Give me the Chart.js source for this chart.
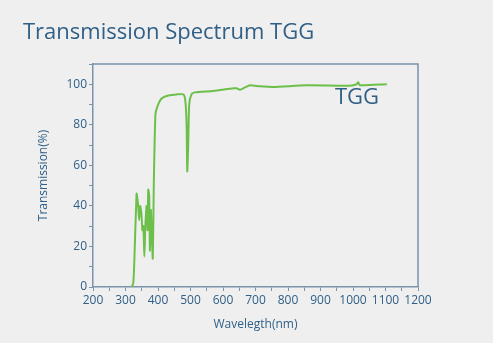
<!DOCTYPE html>
<html>
<head>
<meta charset="utf-8">
<script src="https://cdn.jsdelivr.net/npm/chart.js@4"></script>
<style>
  body { margin: 0; background: #efefef; }
  canvas { display: block; }
</style>
</head>
<body>
<canvas id="chart" width="493" height="343"></canvas>
<script>
'use strict';

// wavelength (nm) and transmission (%)
let wavelengths = [319, 324, 327, 334, 337, 339, 342, 345, 349, 352, 355, 358, 361, 365, 368, 370, 373, 375, 378, 381, 384, 387, 392, 398, 411, 432, 457, 478, 484, 488, 490, 493, 496, 503, 514, 570, 632, 642, 652, 668, 683, 714, 755, 857, 990, 1011, 1016, 1021, 1104];
let transmission = [0, 2, 12, 46, 43, 40, 33, 40, 36, 28, 30, 15, 30, 40, 28, 48, 45, 18, 38, 25, 14, 50, 85, 89, 93, 94.5, 95, 95, 92, 80, 57, 70, 90, 95, 96, 96.7, 98, 98, 97.3, 98.5, 99.5, 99, 98.7, 99.5, 99.3, 100, 101, 99.5, 100];
let seriesLabel = 'TGG';
let chartTitle = 'Transmission Spectrum TGG';

let canvasElem = document.getElementById('chart');

const textColor = '#2f5f86';
const axisColor = '#7a94ab';
const font = '"Open Sans", sans-serif';

// title, series label and box border
const decorations = {
    id: 'decorations',
    afterDraw(chart) {
        let ctx = chart.ctx;
        let area = chart.chartArea;
        ctx.save();
        ctx.strokeStyle = axisColor;
        ctx.lineWidth = 1.5;
        ctx.beginPath();
        ctx.moveTo(area.left, area.top);
        ctx.lineTo(area.right, area.top);
        ctx.lineTo(area.right, area.bottom);
        ctx.stroke();

        ctx.fillStyle = textColor;
        ctx.textBaseline = 'alphabetic';
        ctx.font = '22px ' + font;
        ctx.fillText(chartTitle, 23, 39);
        ctx.font = '22px ' + font;
        ctx.fillText(seriesLabel, 335, 104);
        ctx.restore();
    }
};

let data = {
    datasets: [{
        label: seriesLabel,
        data: wavelengths.map((w, i) => ({ x: w, y: transmission[i] })),
        borderColor: '#6cc04a',
        borderWidth: 2,
        pointRadius: 0,
        fill: false,
        tension: 0.2
    }]
};

let options = {
    responsive: false,
    animation: false,
    layout: { padding: { left: 0, top: 64, right: 75, bottom: 0 } },
    plugins: {
        legend: { display: false },
        tooltip: { enabled: false }
    },
    scales: {
        x: {
            type: 'linear',
            min: 200,
            max: 1200,
            afterFit: scale => { scale.height = 56; },
            border: { color: axisColor, width: 1.5 },
            grid: { display: true, drawOnChartArea: false, drawTicks: true, tickLength: 4, color: axisColor },
            ticks: {
                stepSize: 50,
                autoSkip: false,
                maxRotation: 0,
                padding: 2,
                color: textColor,
                font: { family: font, size: 12 },
                callback: v => (v % 100 === 0 ? v : '')
            },
            title: {
                display: true,
                text: 'Wavelegth(nm)',
                color: textColor,
                font: { family: font, size: 12 },
                padding: { top: 0, bottom: 11 }
            }
        },
        y: {
            min: 0,
            max: 110,
            afterFit: scale => { scale.width = 93; },
            border: { color: axisColor, width: 1.5 },
            grid: { display: true, drawOnChartArea: false, drawTicks: true, tickLength: 4, color: axisColor },
            ticks: {
                stepSize: 10,
                autoSkip: false,
                padding: 2,
                color: textColor,
                font: { family: font, size: 12 },
                callback: v => (v % 20 === 0 && v <= 100 ? v : '')
            },
            title: {
                display: true,
                text: 'Transmission(%)',
                color: textColor,
                font: { family: font, size: 12 },
                padding: { top: 36, bottom: 0 }
            }
        }
    }
};

new Chart(canvasElem.getContext('2d'), {
    type: 'line',
    data: data,
    options: options,
    plugins: [decorations]
});
</script>
</body>
</html>
